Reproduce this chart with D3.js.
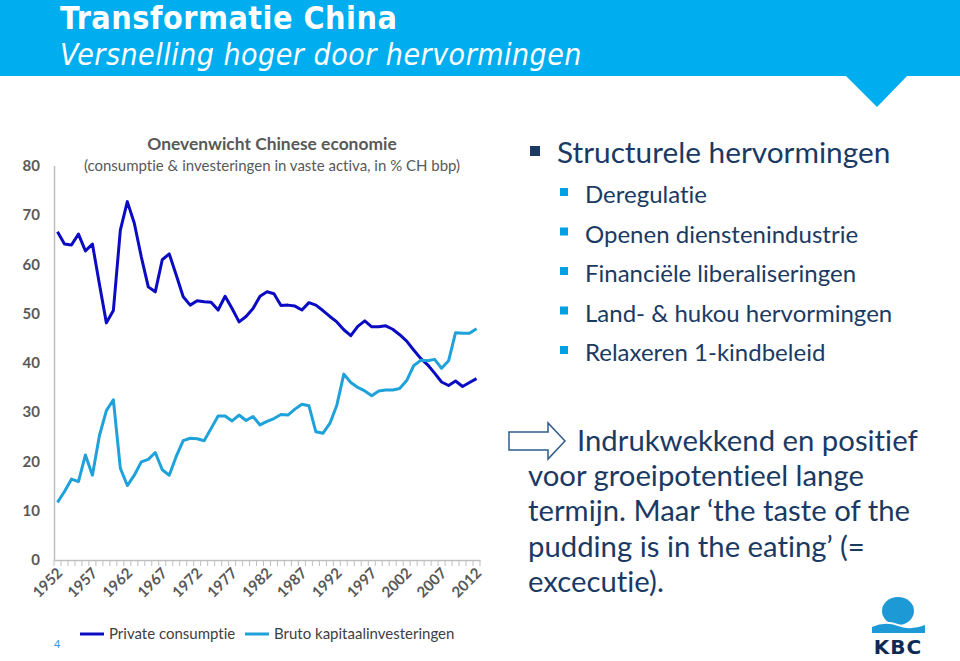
<!DOCTYPE html>
<html><head><meta charset="utf-8">
<script src="https://cdn.jsdelivr.net/npm/d3@7"></script>
<style>
html,body{margin:0;padding:0;background:#fff;}
svg{display:block;}
text{font-variant-ligatures:none;font-feature-settings:"liga" 0;}
</style></head>
<body>
<svg id="c" width="960" height="661"></svg>
<script>
// ---------- data ----------
const years = d3.range(1952, 2013);
const privateConsumption = [66.6,64.1,63.9,66.1,62.7,64.1,56.0,48.1,50.6,66.9,72.7,68.3,61.5,55.4,54.4,60.9,62.1,57.8,53.4,51.7,52.6,52.4,52.3,50.7,53.5,51.0,48.3,49.4,51.0,53.5,54.4,54.0,51.6,51.7,51.5,50.7,52.2,51.7,50.6,49.4,48.3,46.7,45.5,47.4,48.5,47.3,47.3,47.5,46.8,45.7,44.4,42.6,40.9,39.6,37.9,36.1,35.4,36.3,35.2,36.0,36.8];
const grossInvestment = [11.7,13.9,16.4,15.9,21.3,17.2,25.2,30.3,32.5,18.6,15.1,17.2,19.9,20.4,21.8,18.3,17.2,21.0,24.2,24.7,24.6,24.2,26.7,29.2,29.2,28.2,29.4,28.3,29.1,27.4,28.1,28.7,29.5,29.4,30.6,31.6,31.3,26.0,25.7,27.7,31.4,37.7,36.0,35.0,34.3,33.3,34.3,34.5,34.5,34.8,36.4,39.4,40.5,40.4,40.7,38.9,40.4,46.1,46.0,46.0,46.9];
const yTicks = [0,10,20,30,40,50,60,70,80];
const labelYears = [1952,1957,1962,1967,1972,1977,1982,1987,1992,1997,2002,2007,2012];
const seriesNames = ["Private consumptie","Bruto kapitaalinvesteringen"];
const seriesColors = ["#0B0BC4","#1FA2DA"];
const bullets = ["Deregulatie","Openen dienstenindustrie","Financiële liberaliseringen","Land- & hukou hervormingen","Relaxeren 1-kindbeleid"];
const conclusion = ["Indrukwekkend en positief","voor groeipotentieel lange","termijn. Maar \u2018the taste of the","pudding is in the eating\u2019 (=","excecutie)."];

const svg = d3.select("#c");
const FONT = "Lato, 'Open Sans', sans-serif";
const HFONT = "'DejaVu Sans Condensed', 'DejaVu Sans', sans-serif";
const navy = "#1B3A63";

// ---------- header ----------
svg.append("rect").attr("x",0).attr("y",0).attr("width",960).attr("height",76).attr("fill","#00AEEF");
svg.append("path").attr("d","M845,75 L908,75 L877,107 Z").attr("fill","#00AEEF");
svg.append("text").attr("x",60).attr("y",29).attr("fill","#fff")
  .style("font-family",HFONT).style("font-weight","bold").style("font-size","32px")
  .style("letter-spacing","0.5px")
  .text("Transformatie China");
svg.append("text").attr("x",60).attr("y",65).attr("fill","#fff")
  .style("font-family",HFONT).style("font-style","italic").style("font-size","30px")
  .style("letter-spacing","0.5px")
  .text("Versnelling hoger door hervormingen");

// ---------- chart ----------
const x = d3.scaleBand().domain(years).range([54,480]);
const y = d3.scaleLinear().domain([0,80]).range([560,165.6]);
const g = svg.append("g");

g.append("text").attr("x",272).attr("y",150).attr("text-anchor","middle").attr("fill","#595959")
  .style("font-family",FONT).style("font-weight","bold").style("font-size","17.4px")
  .text("Onevenwicht Chinese economie");
g.append("text").attr("x",272).attr("y",171).attr("text-anchor","middle").attr("fill","#595959")
  .style("font-family",FONT).style("font-size","15px")
  .text("(consumptie & investeringen in vaste activa, in %  CH bbp)");

// y axis
const yAxis = d3.axisLeft(y).tickValues(yTicks).tickSize(0).tickPadding(14);
const yg = g.append("g").attr("transform","translate(54,0)").call(yAxis);
yg.select(".domain").attr("stroke","#BFBFBF").attr("stroke-width",1.5);
yg.selectAll("text").attr("fill","#595959").style("font-family",FONT).style("font-weight","bold").style("font-size","15px");
yg.selectAll(".tick line").remove();

// x axis
const xAxis = d3.axisBottom(x).tickValues(labelYears).tickSize(0).tickPadding(0);
const xg = g.append("g").attr("transform","translate(0,560)").call(xAxis);
xg.select(".domain").attr("stroke","#BFBFBF").attr("stroke-width",1.5);
xg.selectAll(".tick line").remove();
xg.selectAll("text").attr("fill","#595959").style("font-family",FONT).style("font-weight","bold").style("font-size","15px")
  .attr("text-anchor","end").attr("dy",null)
  .attr("transform","translate(6,14) rotate(-45)");
// minor ticks at category boundaries
const bounds = years.map(d=>x(d)).concat([x(years[years.length-1])+x.bandwidth()]);
g.append("g").selectAll("line").data(bounds).join("line")
  .attr("x1",d=>d).attr("x2",d=>d).attr("y1",560).attr("y2",566)
  .attr("stroke","#BFBFBF").attr("stroke-width",1);

const line = d3.line().x((d,i)=>x(years[i])+x.bandwidth()/2).y(d=>y(d));
[privateConsumption, grossInvestment].forEach((s,k)=>{
  g.append("path").datum(s).attr("d",line).attr("fill","none")
   .attr("stroke",seriesColors[k]).attr("stroke-width",3).attr("stroke-linejoin","round");
});

// legend
const legX = [80,245];
seriesNames.forEach((n,k)=>{
  g.append("line").attr("x1",legX[k]).attr("x2",legX[k]+24).attr("y1",634).attr("y2",634)
    .attr("stroke",seriesColors[k]).attr("stroke-width",3);
  g.append("text").attr("x",legX[k]+29).attr("y",639).attr("fill","#404040")
    .style("font-family",FONT).style("font-size","15px").text(n);
});

svg.append("text").attr("x",54).attr("y",648).attr("fill","#3399CC")
  .style("font-family",FONT).style("font-size","11px").text("4");

// ---------- right text ----------
svg.append("rect").attr("x",530).attr("y",146).attr("width",10).attr("height",10).attr("fill",navy);
svg.append("text").attr("x",557).attr("y",163).attr("fill",navy)
  .style("font-family",FONT).style("font-size","29.8px").text("Structurele hervormingen");
bullets.forEach((b,i)=>{
  const by = 203 + i*39.5;
  svg.append("rect").attr("x",560).attr("y",by-15).attr("width",8).attr("height",8).attr("fill","#00A0E3");
  svg.append("text").attr("x",585).attr("y",by).attr("fill",navy)
    .style("font-family",FONT).style("font-size","24px").text(b);
});

svg.append("path").attr("d","M509,432 L548,432 L548,423 L565,441 L548,459 L548,450 L509,450 Z")
  .attr("fill","#fff").attr("stroke","#2E5C8A").attr("stroke-width",1.5);
conclusion.forEach((t,i)=>{
  svg.append("text").attr("x", i===0?577:528).attr("y",451 + i*35.2).attr("fill",navy)
    .style("font-family",FONT).style("font-size","29.3px").text(t);
});

// ---------- KBC logo ----------
const logo = svg.append("g");
logo.append("ellipse").attr("cx",898).attr("cy",611).attr("rx",16).attr("ry",14).attr("fill","#1D9AD6");
logo.append("path").attr("d","M872,625 Q885,619 898,624 Q911,629 925,623 L925,633 L872,633 Z").attr("fill","#fff");
logo.append("path").attr("d","M872,627 Q885,621 898,626 Q911,631 925,625 L925,633 L872,633 Z").attr("fill","#1D9AD6");
logo.append("text").attr("x",898).attr("y",654).attr("text-anchor","middle").attr("fill","#0B2A55")
  .style("font-family","'DejaVu Sans', sans-serif").style("font-weight","900").style("font-size","20px")
  .style("letter-spacing","1px").text("KBC");
</script>
</body></html>
